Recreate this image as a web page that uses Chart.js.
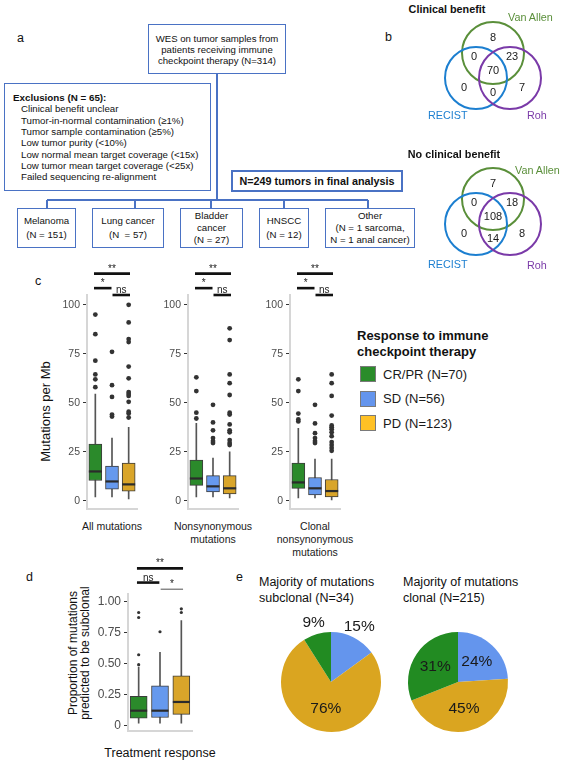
<!DOCTYPE html>
<html>
<head>
<meta charset="utf-8">
<script src="https://cdn.jsdelivr.net/npm/chart.js@4.4.0/dist/chart.umd.min.js"></script>
<style>
body { margin: 0; background: #fff; }
#page { position: relative; width: 563px; height: 763px; overflow: hidden; font-family: "Liberation Sans", Arial, sans-serif; color: #111; }
.t { position: absolute; white-space: pre; line-height: 1; }
.box { position: absolute; border: 1.3px solid #4a72c4; box-sizing: border-box; background: #fff; display: flex; flex-direction: column; justify-content: center; align-items: center; text-align: center; white-space: pre; }
.ln { position: absolute; background: #4a72c4; }
canvas { position: absolute; }
</style>
</head>
<body>
<div id="page"></div>
<script>
// Panel b: Venn counts
var vennSets = ['Van Allen', 'RECIST', 'Roh'];
var vennColors = ['#5a8f3a', '#1c7fd0', '#7a3aa8'];
// regions: VA only, VA+RECIST, VA+Roh, all three, RECIST only, RECIST+Roh, Roh only
var benefitCounts = [8, 0, 23, 70, 0, 0, 7];
var noBenefitCounts = [7, 0, 18, 108, 0, 14, 8];

// Panel c: mutation burden per response group
var groupNames = ['CR/PR (N=70)', 'SD (N=56)', 'PD (N=123)'];
var boxFill = ['#2b8a2b', '#6699ee', '#d9a52a'];
var legendFill = ['#2a8c2a', '#6495ed', '#ffc125'];
// [lower whisker, Q1, median, Q3, upper whisker]
var allMutStats = [[2, 10.4, 15, 29, 54.5], [2, 5.9, 9.9, 17.8, 32], [1, 4.9, 8.4, 19.3, 37.5]];
var allMutOutliers = [[95, 85, 71.5, 64.5, 62, 58], [76, 59, 53, 44, 43], [100, 91, 82.5, 81, 68.5, 62.5, 55.5, 54.5, 53.5, 50.5, 45.5, 44.5, 42.5]];
var nonsynStats = [[2, 7.9, 11.4, 20.8, 39.5], [2, 4.5, 7.4, 12.9, 21.8], [1.5, 3.5, 6.4, 12.9, 25]];
var nonsynOutliers = [[63, 56, 45, 42], [49, 40, 36, 32, 30.5, 29.5], [88, 82, 64.5, 60, 54, 45, 44, 39, 36, 35, 31, 29.5, 28.5]];
var clonalStats = [[1.5, 6.4, 9.4, 19.3, 37], [1.5, 3, 6.4, 11.9, 21.3], [0.5, 2, 5, 10.9, 21.3]];
var clonalOutliers = [[62, 56, 44.5, 41.5, 40.5], [49, 39.5, 34.5, 32, 30.5, 29.5], [64.5, 60, 53.5, 43.5, 38.5, 37.5, 36.5, 35, 33, 30, 28.5, 27, 25.5]];
var facetLabels = [['All mutations'], ['Nonsynonymous', 'mutations'], ['Clonal', 'nonsynonymous', 'mutations']];
var mutTicks = [0, 25, 50, 75, 100];
var mutSig = [[1, 3, '**'], [1, 2, '*'], [2, 3, 'ns']];

// Panel d: proportion subclonal
var subStats = [[0.02, 0.06, 0.12, 0.235, 0.47], [0.02, 0.065, 0.12, 0.32, 0.59], [0.02, 0.09, 0.19, 0.40, 0.845]];
var subOutliers = [[0.91, 0.87, 0.57, 0.49], [0.755], [0.94, 0.91]];
var subTicks = [0, 0.25, 0.5, 0.75, 1];
var subTickText = ['0', '0.25', '0.50', '0.75', '1.00'];
var subSig = [[1, 3, '**'], [1, 2, 'ns'], [2, 3, '*']];

// Panel e: pies
var pieOrder = ['SD', 'PD', 'CR/PR'];
var pieColors = ['#6495ed', '#daa520', '#228b22'];
var subclonalPct = [15, 76, 9];
var clonalPct = [24, 45, 31];

Chart.defaults.font.family = '"Liberation Sans", Arial, sans-serif';
Chart.defaults.animation = false;

var page = document.getElementById('page');
var FONT = '"Liberation Sans", Arial, sans-serif';

function txt(s, x, y, size, css) {
  var d = document.createElement('div');
  d.className = 't';
  d.textContent = s;
  d.style.left = x + 'px';
  d.style.top = (y - size / 2) + 'px';
  d.style.fontSize = size + 'px';
  if (css) d.style.cssText += css;
  page.appendChild(d);
  return d;
}
function ctxt(s, x, y, size, css) {
  return txt(s, x, y, size, 'transform:translateX(-50%);' + (css || ''));
}
function rect(x1, y1, x2, y2, lines, size, lh, css) {
  var d = document.createElement('div');
  d.className = 'box';
  d.style.left = x1 + 'px'; d.style.top = y1 + 'px';
  d.style.width = (x2 - x1) + 'px'; d.style.height = (y2 - y1) + 'px';
  d.style.fontSize = size + 'px'; d.style.lineHeight = lh + 'px';
  d.textContent = lines.join('\n');
  if (css) d.style.cssText += css;
  page.appendChild(d);
  return d;
}
function hline(x1, x2, y) {
  var d = document.createElement('div'); d.className = 'ln';
  d.style.left = x1 + 'px'; d.style.top = (y - 0.65) + 'px';
  d.style.width = (x2 - x1) + 'px'; d.style.height = '1.3px';
  page.appendChild(d);
}
function vline(x, y1, y2) {
  var d = document.createElement('div'); d.className = 'ln';
  d.style.left = (x - 0.65) + 'px'; d.style.top = y1 + 'px';
  d.style.width = '1.3px'; d.style.height = (y2 - y1) + 'px';
  page.appendChild(d);
}
function canvasAt(x, y, w, h) {
  var c = document.createElement('canvas');
  c.width = w; c.height = h;
  c.style.left = x + 'px'; c.style.top = y + 'px';
  c.style.width = w + 'px'; c.style.height = h + 'px';
  page.appendChild(c);
  return c;
}

// ---------- panel a: flowchart ----------
txt('a', 17, 38, 12.5);
vline(217, 74, 200);
rect(148, 24, 286, 74, ['WES on tumor samples from', 'patients receiving immune', 'checkpoint therapy (N=314)'], 9.6, 11);
var excl = rect(4, 83, 211, 191, [''], 9.7, 11);
var exclLines = ['Clinical benefit unclear', 'Tumor-in-normal contamination (\u22651%)', 'Tumor sample contamination (\u22655%)',
  'Low tumor purity (<10%)', 'Low normal mean target coverage (<15x)', 'Low tumor mean target coverage (<25x)', 'Failed sequencing re-alignment'];
txt('Exclusions (N = 65):', 13, 98, 9.8, 'font-weight:bold;');
exclLines.forEach(function (s, k) { txt(s, 21, 109.3 + 11.3 * k, 9.7); });
rect(231, 170, 403, 192, ['N=249 tumors in final analysis'], 10.8, 12, 'font-weight:bold;border-width:2px;');
hline(47, 368, 200);
[47, 135, 211, 284, 368].forEach(function (x) { vline(x, 200, 208); });
rect(17, 208, 76, 248, ['Melanoma', '(N = 151)'], 9.7, 14);
rect(92, 208, 164, 248, ['Lung cancer', '(N  = 57)'], 9.7, 14);
rect(180, 208, 243, 248, ['Bladder', 'cancer', '(N = 27)'], 9.7, 12);
rect(259, 208, 309, 248, ['HNSCC', '(N = 12)'], 9.7, 14);
rect(325, 208, 415, 248, ['Other', '(N = 1 sarcoma,', 'N = 1 anal cancer)'], 9.7, 12);

// ---------- panel b: Venn diagrams ----------
txt('b', 385, 37, 12.5);
var vennCircle = [[0, -17], [-17, 8], [17, 8]];
var vennSpot = [[0, -32], [-19, -13], [19, -13], [0, 1], [-29, 18], [0, 23], [29, 18]];
function venn(left, top, counts) {
  var cv = canvasAt(left, top, 130, 110);
  new Chart(cv, {
    type: 'scatter',
    data: { datasets: [{
      data: vennCircle.map(function (c) { return { x: c[0], y: c[1] }; }),
      pointRadius: 31, pointHoverRadius: 31, pointBorderWidth: 2, clip: false,
      pointBorderColor: vennColors, pointBackgroundColor: 'rgba(0,0,0,0)'
    }] },
    options: {
      responsive: false,
      layout: { padding: 0, autoPadding: false },
      plugins: { legend: { display: false }, tooltip: { enabled: false } },
      scales: {
        x: { display: false, min: -63, max: 67 },
        y: { display: false, min: -55, max: 55, reverse: true }
      }
    },
    plugins: [{
      id: 'vennCounts',
      afterDatasetsDraw: function (chart) {
        var ctx = chart.ctx;
        ctx.save();
        ctx.font = '11px ' + FONT;
        ctx.fillStyle = '#1a1a1a';
        ctx.textAlign = 'center';
        ctx.textBaseline = 'middle';
        counts.forEach(function (n, i) {
          ctx.fillText(String(n), chart.scales.x.getPixelForValue(vennSpot[i][0]), chart.scales.y.getPixelForValue(vennSpot[i][1]));
        });
        ctx.restore();
      }
    }]
  });
}
ctxt('Clinical benefit', 447, 9, 10.8, 'font-weight:bold;');
venn(430, 15, benefitCounts);
txt(vennSets[0], 508, 17, 10.8, 'color:' + vennColors[0]);
txt(vennSets[1], 428, 115, 10.8, 'color:' + vennColors[1]);
txt(vennSets[2], 527, 115, 10.8, 'color:' + vennColors[2]);
ctxt('No clinical benefit', 454, 154, 10.8, 'font-weight:bold;');
venn(430, 161, noBenefitCounts);
txt(vennSets[0], 515, 170, 10.8, 'color:' + vennColors[0]);
txt(vennSets[1], 428, 264, 10.8, 'color:' + vennColors[1]);
txt(vennSets[2], 527, 265, 10.8, 'color:' + vennColors[2]);

// ---------- box plots ----------
function boxPlot(cfg) {
  var cv = canvasAt(cfg.left - cfg.axisW, cfg.plotTop - cfg.padTop, cfg.axisW + cfg.plotW + 4, cfg.padTop + cfg.plotH + 3);
  var datasets = [];
  cfg.sig.forEach(function (s, k) {
    var a = s[0] - 0.08 + (s[0] > 1 ? 0.11 : 0);
    var b = s[1] + 0.08 - (s[1] < 3 ? 0.11 : 0);
    datasets.push({
      type: 'line', data: [{ x: a, y: cfg.sigH[k] }, { x: b, y: cfg.sigH[k] }],
      borderColor: cfg.sigColor[k], borderWidth: cfg.sigW[k], pointRadius: 0, clip: false
    });
  });
  var pts = [];
  cfg.outliers.forEach(function (arr, i) { arr.forEach(function (v) { pts.push({ x: i + 1, y: v }); }); });
  datasets.push({
    type: 'line', data: pts, showLine: false, pointRadius: cfg.ptR, pointHoverRadius: cfg.ptR,
    pointBackgroundColor: '#333', pointBorderWidth: 0, clip: false
  });
  datasets.push({
    type: 'line', showLine: false,
    data: cfg.stats.map(function (s, i) { return { x: i + 1, y: s[2] }; }),
    pointStyle: 'line', pointRadius: cfg.boxW / 2, pointHoverRadius: cfg.boxW / 2,
    pointBorderWidth: 2.2, pointBorderColor: '#2b2b2b', clip: false
  });
  datasets.push({
    type: 'bar', grouped: false, barThickness: cfg.boxW, borderSkipped: false,
    data: cfg.stats.map(function (s, i) { return { x: i + 1, y: [s[1], s[3]] }; }),
    backgroundColor: boxFill, borderColor: '#3c3c3c', borderWidth: 1
  });
  datasets.push({
    type: 'bar', grouped: false, barThickness: 1,
    data: cfg.stats.map(function (s, i) { return { x: i + 1, y: [s[0], s[4]] }; }),
    backgroundColor: '#555', borderWidth: 0
  });
  new Chart(cv, {
    type: 'bar',
    data: { datasets: datasets },
    options: {
      responsive: false,
      layout: { padding: { top: cfg.padTop, right: 4, bottom: 3, left: 0 }, autoPadding: false },
      plugins: { legend: { display: false }, tooltip: { enabled: false } },
      scales: {
        x: {
          type: 'linear', min: 0.5, max: 3.5, offset: false,
          ticks: { display: false }, grid: { display: false, drawTicks: false },
          border: { display: true, color: '#d6d6d6', width: 2 },
          afterFit: function (s) { s.height = 0; }
        },
        y: {
          type: 'linear', min: cfg.yMin, max: cfg.yMax,
          afterFit: function (s) { s.width = cfg.axisW; },
          afterBuildTicks: function (s) { s.ticks = cfg.ticks.map(function (v) { return { value: v }; }); },
          ticks: {
            color: '#4d4d4d', font: { size: cfg.tickSize }, padding: 3,
            callback: function (v, i) { return cfg.tickText ? cfg.tickText[i] : String(v); }
          },
          grid: { drawOnChartArea: false, drawTicks: true, tickLength: 4, color: '#333' },
          border: { display: true, color: '#d6d6d6', width: 2 }
        }
      }
    },
    plugins: [{
      id: 'sigText',
      afterDatasetsDraw: function (chart) {
        var ctx = chart.ctx;
        ctx.save();
        ctx.font = cfg.sigFont + 'px ' + FONT;
        ctx.fillStyle = '#1a1a1a';
        ctx.textAlign = 'center';
        ctx.textBaseline = 'alphabetic';
        cfg.sig.forEach(function (s, k) {
          var meta = chart.getDatasetMeta(k);
          var x = (meta.data[0].x + meta.data[1].x) / 2;
          ctx.fillText(s[2], x, meta.data[0].y - 2);
        });
        ctx.restore();
      }
    }]
  });
}

// ---------- panel c ----------
txt('c', 35, 281, 12.5);
txt('Mutations per Mb', 45, 411, 13, 'transform:translate(-50%,0) rotate(-90deg);');
var facetStats = [allMutStats, nonsynStats, clonalStats];
var facetOut = [allMutOutliers, nonsynOutliers, clonalOutliers];
var facetLeft = [87, 188, 290];
facetStats.forEach(function (st, f) {
  boxPlot({
    left: facetLeft[f], plotW: 50, plotTop: 295, plotH: 220, padTop: 37, axisW: 30,
    yMin: -4, yMax: 105, ticks: mutTicks, tickSize: 10.5,
    stats: st, outliers: facetOut[f], boxW: 13, ptR: 2.4,
    sig: mutSig, sigH: [115.9, 108.5, 105], sigColor: ['#111', '#111', '#111'], sigW: [2.6, 2.6, 2.6], sigFont: 10
  });
  facetLabels[f].forEach(function (s, k) { ctxt(s, facetLeft[f] + 25, 526 + 13 * k, 10.5, 'color:#1a1a1a;'); });
});

// legend
txt('Response to immune', 357, 335, 13, 'font-weight:bold;');
txt('checkpoint therapy', 357, 351, 13, 'font-weight:bold;');
groupNames.forEach(function (g, i) {
  var y = 374 + 24.5 * i;
  var sw = document.createElement('div');
  sw.style.cssText = 'position:absolute;left:360px;top:' + (y - 8) + 'px;width:16px;height:16px;box-sizing:border-box;border:1px solid #7a7a7a;background:' + legendFill[i];
  page.appendChild(sw);
  txt(g, 383, y, 13, 'color:#1a1a1a;');
});

// ---------- panel d ----------
txt('d', 26, 577, 12.5);
txt('Proportion of mutations', 73, 653, 12, 'transform:translate(-50%,0) rotate(-90deg);');
txt('predicted to be subclonal', 85, 653, 12, 'transform:translate(-50%,0) rotate(-90deg);');
boxPlot({
  left: 128, plotW: 64, plotTop: 594, plotH: 144, padTop: 40, axisW: 34,
  yMin: -0.042, yMax: 1.059, ticks: subTicks, tickText: subTickText, tickSize: 12,
  stats: subStats, outliers: subOutliers, boxW: 17, ptR: 1.6,
  sig: subSig, sigH: [1.265, 1.151, 1.097], sigColor: ['#111', '#111', '#888'], sigW: [2.6, 2.6, 1.5], sigFont: 10
});
ctxt('Treatment response', 160, 753, 12.5);

// ---------- panel e ----------
txt('e', 236, 577, 12.5);
txt('Majority of mutations', 259, 582, 12.5);
txt('subclonal (N=34)', 259, 598, 12.5);
txt('Majority of mutations', 403, 582, 12.5);
txt('clonal (N=215)', 403, 598, 12.5);
var pieLabels = {
  id: 'pieLabels',
  afterDatasetsDraw: function (chart) {
    var ctx = chart.ctx, meta = chart.getDatasetMeta(0), vals = chart.data.datasets[0].data;
    ctx.save();
    ctx.font = '15.5px ' + FONT;
    ctx.fillStyle = '#1a1a1a';
    ctx.textAlign = 'center';
    ctx.textBaseline = 'middle';
    meta.data.forEach(function (arc, i) {
      var p = arc.getProps(['x', 'y', 'startAngle', 'endAngle', 'outerRadius']);
      var mid = (p.startAngle + p.endAngle) / 2;
      var r = vals[i] < 20 ? p.outerRadius * 1.24 : p.outerRadius * 0.55;
      ctx.fillText(vals[i] + '%', p.x + Math.cos(mid) * r, p.y + Math.sin(mid) * r);
    });
    ctx.restore();
  }
};
function pie(left, values) {
  var cv = canvasAt(left, 612, 120, 130);
  new Chart(cv, {
    type: 'pie',
    data: { labels: pieOrder, datasets: [{ data: values, backgroundColor: pieColors, borderWidth: 0 }] },
    options: {
      responsive: false,
      layout: { padding: { top: 20, bottom: 10, left: 10, right: 10 } },
      plugins: { legend: { display: false }, tooltip: { enabled: false } }
    },
    plugins: [pieLabels]
  });
}
pie(271, subclonalPct);
pie(398, clonalPct);
</script>
</body>
</html>
